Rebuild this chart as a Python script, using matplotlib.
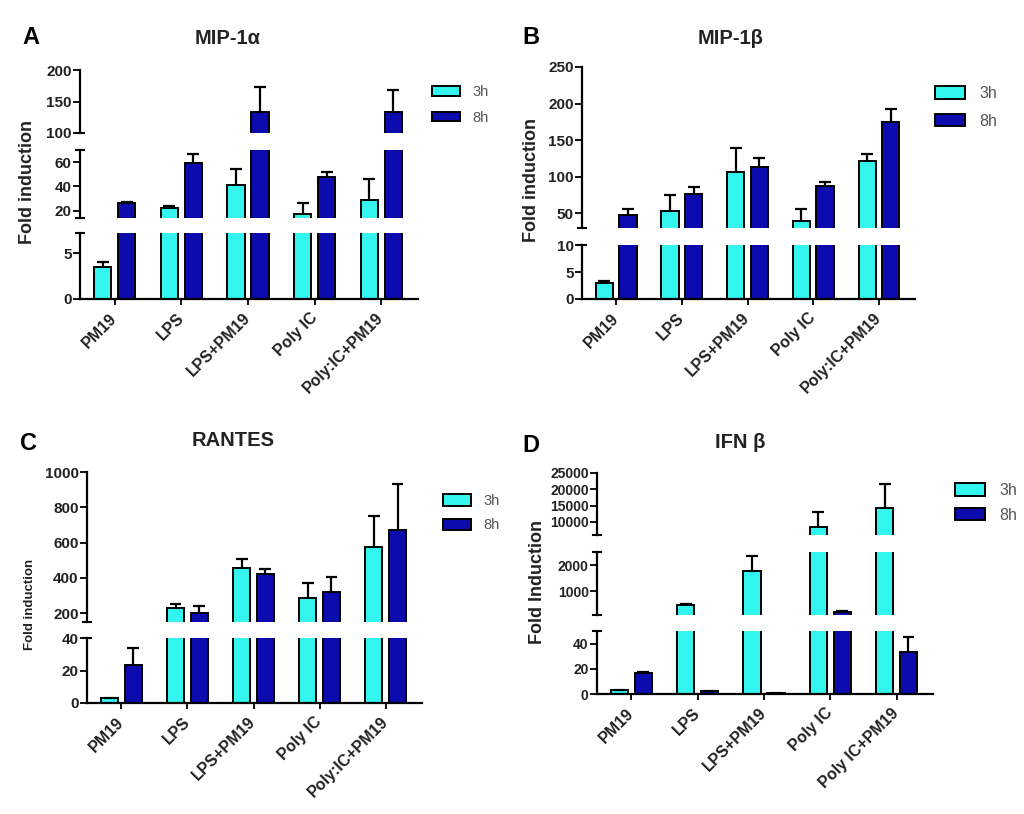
import matplotlib.pyplot as plt
import numpy as np
from matplotlib.lines import Line2D
from matplotlib.patches import Patch

plt.rcParams['font.family'] = ['Liberation Sans', 'DejaVu Sans']

W, H = 1024, 814
CYAN = '#33F5EE'
NAVY = '#0C0CAE'
TXT = '#222222'

groups = ["PM19", "LPS", "LPS+PM19", "Poly IC", "Poly:IC+PM19"]
groups_d = ["PM19", "LPS", "LPS+PM19", "Poly IC", "Poly IC+PM19"]
series = ["3h", "8h"]

# A  MIP-1 alpha
mip1a_3h = [3.5, 22.5, 41, 17, 29]
mip1a_3h_err = [0.5, 1, 13, 9.5, 17]
mip1a_8h = [26, 59, 133, 47.5, 133]
mip1a_8h_err = [1, 8, 40, 4.5, 35]

# B  MIP-1 beta
mip1b_3h = [3, 53, 106, 40, 121]
mip1b_3h_err = [0.3, 22, 34, 16, 10]
mip1b_8h = [48, 77, 113, 87, 175]
mip1b_8h_err = [8, 9, 12, 6, 17]

# C  RANTES
rantes_3h = [3, 229, 455, 286, 577]
rantes_3h_err = [0.3, 22, 53, 84, 173]
rantes_8h = [23.5, 200, 420, 320, 670]
rantes_8h_err = [10.5, 40, 30, 85, 260]

# D  IFN beta
ifnb_3h = [3, 480, 1760, 8450, 14200]
ifnb_3h_err = [0.3, 30, 570, 4600, 7400]
ifnb_8h = [17, 2, 0.5, 220, 33]
ifnb_8h_err = [0.5, 0.3, 0.1, 20, 12]


def frect(x0, x1, ytop, ybot):
    return [x0 / W, 1 - ybot / H, (x1 - x0) / W, (ybot - ytop) / H]


def fig_line(fig, x0, y0, x1, y1):
    fig.add_artist(Line2D([x0 / W, x1 / W], [1 - y0 / H, 1 - y1 / H],
                          color='black', lw=1.5, transform=fig.transFigure))


def panel(fig, x_left, x_right, segs, labels, v3, e3, v8, e8, fs_ticks=11):
    x = np.arange(len(labels))
    n = len(segs)
    axes = []
    for i, (ylo, yhi, ptop, pbot, ticks) in enumerate(segs):
        ax = fig.add_axes(frect(x_left, x_right, ptop, pbot))
        for off, v, e, col in [(-0.18, v3, e3, CYAN), (0.18, v8, e8, NAVY)]:
            v = np.array(v, dtype=float)
            top = v + np.array(e)
            # only what reaches into this segment
            m = v > ylo
            ax.bar(x[m] + off, v[m], 0.26, color=col, edgecolor='black', lw=1.4, zorder=2)
            ax.vlines(x[m] + off, v[m], top[m], color='black', lw=1.6, zorder=3)
            ax.hlines(top[m], x[m] + off - 0.09, x[m] + off + 0.09,
                      color='black', lw=1.6, zorder=3)
        ax.set_xlim(-0.52, 4.55)
        ax.set_ylim(ylo, yhi)
        ax.set_yticks(ticks)
        ax.set_yticklabels([str(t) for t in ticks], fontweight='bold',
                           fontsize=fs_ticks, color=TXT)
        ax.tick_params(axis='y', length=5, width=1.3, pad=1)
        for s in ['top', 'right']:
            ax.spines[s].set_visible(False)
        ax.spines['left'].set_linewidth(1.6)
        ax.patch.set_visible(False)
        if i < n - 1:
            ax.spines['bottom'].set_visible(False)
            ax.tick_params(axis='x', bottom=False, labelbottom=False)
            fig_line(fig, x_left - 4, pbot, x_left + 4, pbot)
        else:
            ax.spines['bottom'].set_linewidth(1.6)
            ax.set_xticks(x)
            ax.set_xticklabels(labels, rotation=45, ha='right', va='center',
                               rotation_mode='anchor', fontweight='bold',
                               fontsize=11.5, color=TXT)
            ax.tick_params(axis='x', length=4, width=1.3, pad=8)
        if i > 0:
            fig_line(fig, x_left - 4, ptop, x_left + 4, ptop)
        axes.append(ax)
    return axes


def legend(fig, ax, x0, y0, fs=10.5, spacing=0.75, hh=0.8):
    handles = [Patch(facecolor=CYAN, edgecolor='black', lw=1.4),
               Patch(facecolor=NAVY, edgecolor='black', lw=1.4)]
    leg = ax.legend(handles, series, loc='upper left',
                    bbox_to_anchor=(x0 / W, 1 - y0 / H),
                    bbox_transform=fig.transFigure, frameon=False,
                    borderpad=0, borderaxespad=0, handlelength=1.9, handleheight=hh,
                    labelspacing=spacing, handletextpad=0.9, fontsize=fs)
    for t in leg.get_texts():
        t.set_color('#555555')


fig = plt.figure(figsize=(W / 100, H / 100), dpi=100)

# A
axA = panel(fig, 80, 418,
            [(100, 200, 70, 133, [100, 150, 200]),
             (14, 70, 150, 218, [20, 40, 60]),
             (0, 7.2, 233, 299, [0, 5])],
            groups, mip1a_3h, mip1a_3h_err, mip1a_8h, mip1a_8h_err)
legend(fig, axA[0], 432, 85, spacing=0.8, hh=0.65)

# B
axB = panel(fig, 582, 915,
            [(30, 250, 67, 228, [50, 100, 150, 200, 250]),
             (0, 10, 245, 299, [0, 5, 10])],
            groups, mip1b_3h, mip1b_3h_err, mip1b_8h, mip1b_8h_err)
legend(fig, axB[0], 935, 86, fs=11.5, spacing=0.8)

# C
axC = panel(fig, 87, 422,
            [(150, 1000, 472, 622, [200, 400, 600, 800, 1000]),
             (0, 40, 638, 703, [0, 20, 40])],
            groups, rantes_3h, rantes_3h_err, rantes_8h, rantes_8h_err)
legend(fig, axC[0], 443, 494, fs=10.5, spacing=0.7)

# D
axD = panel(fig, 597, 933,
            [(6000, 25000, 473, 535, [10000, 15000, 20000, 25000]),
             (100, 2500, 552, 615, [1000, 2000]),
             (0, 50, 631, 694, [0, 20, 40])],
            groups_d, ifnb_3h, ifnb_3h_err, ifnb_8h, ifnb_8h_err, fs_ticks=10)
legend(fig, axD[0], 955, 483, fs=11.5, spacing=0.6)

# titles, panel letters, y labels
for letter, lx, ly, title, tx, ty, ylab, yx, yy, yfs in [
        ('A', 22, 37, 'MIP-1α', 228, 38, 'Fold induction', 28, 182, 13),
        ('B', 522, 37, 'MIP-1β', 731, 39, 'Fold induction', 532, 180, 13),
        ('C', 20, 443, 'RANTES', 233, 441, 'Fold induction', 30, 604, 9.5),
        ('D', 522, 445, 'IFN β', 740, 442, 'Fold Induction', 538, 582, 13)]:
    fig.text(lx / W, 1 - ly / H, letter, fontsize=17, fontweight='bold',
             ha='left', va='center', color='black')
    fig.text(tx / W, 1 - ty / H, title, fontsize=14.5, fontweight='bold',
             ha='center', va='center', color=TXT)
    fig.text(yx / W, 1 - yy / H, ylab, fontsize=yfs, fontweight='bold',
             rotation=90, ha='center', va='center', color=TXT)

fig.savefig('out.png', dpi=100)
